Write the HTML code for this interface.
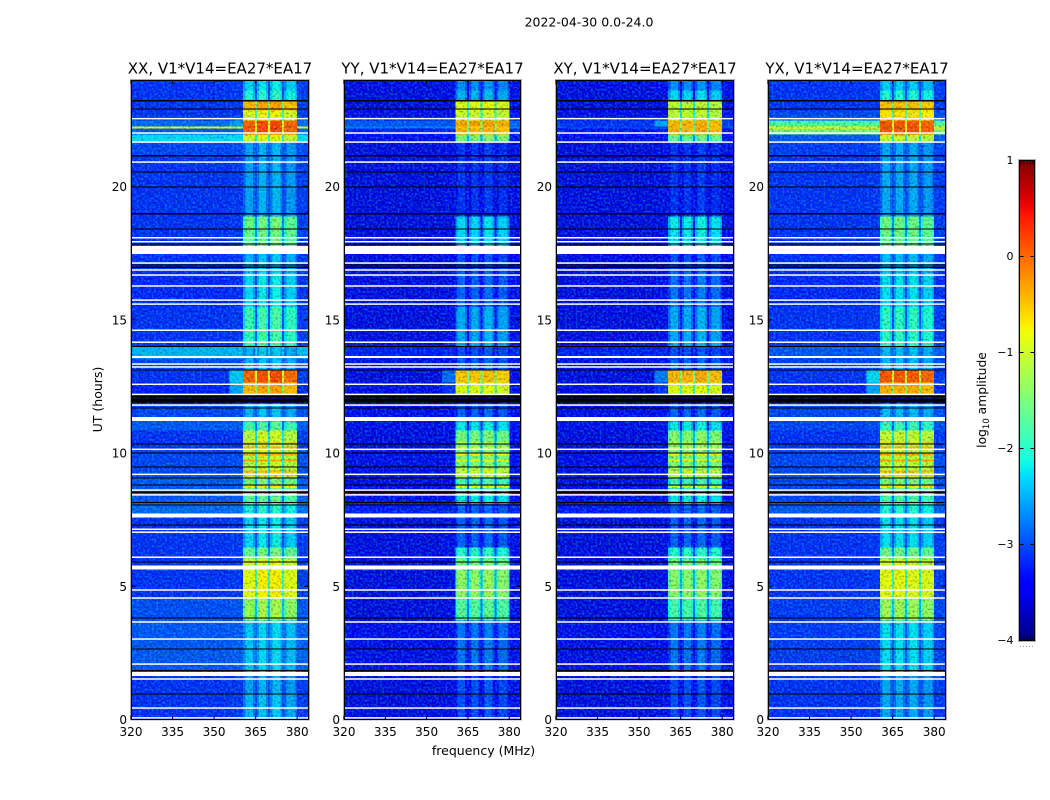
<!DOCTYPE html>
<html lang="en">
<head>
<meta charset="utf-8">
<title>2022-04-30 spectrogram</title>
<style>
html,body{margin:0;padding:0;background:#fff;}
svg{display:block;font-family:"DejaVu Sans","Liberation Sans",sans-serif;fill:#000;}
</style>
</head>
<body>
<svg id="chart" xmlns="http://www.w3.org/2000/svg" width="1050" height="800" viewBox="0 0 1050 800">
  <defs>
    <filter id="speckle-dark" x="0" y="0" width="1" height="1" color-interpolation-filters="sRGB">
      <feTurbulence type="fractalNoise" baseFrequency="0.46" numOctaves="1" seed="7"/>
      <feColorMatrix type="matrix" values="1.1 0 0 0 0.42  1.1 0 0 0 0.42  1.1 0 0 0 0.42  0 0 0 0 1"/>
    </filter>
    <filter id="speckle-light" x="0" y="0" width="1" height="1" color-interpolation-filters="sRGB">
      <feTurbulence type="fractalNoise" baseFrequency="0.46" numOctaves="1" seed="23"/>
      <feColorMatrix type="matrix" values="0 0 0 0 0  1.0 0 0 0 -0.42  0 0 0 0 0  0 0 0 0 1"/>
    </filter>
    <linearGradient id="jet-gradient" x1="0" y1="1" x2="0" y2="0"></linearGradient>
  </defs>
  <text x="589" y="26.500" font-size="12.500" text-anchor="middle">2022-04-30 0.0-24.0</text>
  <text transform="translate(102 399.500) rotate(-90)" font-size="12.500" text-anchor="middle">UT (hours)</text>
  <text x="483.500" y="755" font-size="12.500" text-anchor="middle">frequency (MHz)</text>
  <g id="panels"></g>
  <g id="colorbar">
    <rect x="1019.500" y="160.500" width="15" height="480" fill="url(#jet-gradient)"/>
    <text transform="translate(986 400) rotate(-90)" font-size="12.300" text-anchor="middle">log<tspan font-size="8.500" dy="3">10</tspan><tspan dy="-3"> amplitude</tspan></text>
  </g>
</svg>
<script>
// ---- Shared axis data ----
const panelTitles = ["XX, V1*V14=EA27*EA17", "YY, V1*V14=EA27*EA17", "XY, V1*V14=EA27*EA17", "YX, V1*V14=EA27*EA17"];
const freqTicks = [320, 335, 350, 365, 380];
const hourTicks = [0, 5, 10, 15, 20];
const colorbarTicks = [1, 0, -1, -2, -3, -4];

// Time-segment edges (UT hours) and frequency-column edges (MHz)
const segmentEdges = [0,1.0,1.86,3.73,4.60,5.61,6.06,6.47,7.60,8.13,8.61,9.06,9.48,10.11,10.86,11.20,11.88,12.22,12.67,13.12,13.57,14.02,15.50,16.79,17.77,18.90,21.11,21.67,21.97,22.20,22.27,22.50,22.87,23.21,23.62,24];
const subbandRanges = [[360.4,364.7],[365.4,369.5],[370.2,374.6],[375.3,380]];

// log10 amplitude per time segment, off-band background
const xxBackground = [-3.2,-3.2,-3.0,-3.05,-3.2,-3.2,-3.2,-3.2,-2.9,-3.0,-3.0,-3.1,-3.1,-3.2,-3.0,-3.1,-4,-3.3,-3.2,-3.1,-2.5,-3.2,-3.25,-3.2,-3.2,-3.2,-3.1,-2.3,-3.0,-0.9,-2.9,-3.2,-3.2,-3.2,-3.2];
const yyBackground = [-3.55,-3.55,-3.5,-3.55,-3.55,-3.55,-3.55,-3.55,-3.3,-3.5,-3.5,-3.5,-3.5,-3.55,-3.5,-3.5,-4,-3.55,-3.55,-3.5,-3.3,-3.55,-3.55,-3.55,-3.55,-3.55,-3.55,-3.4,-3.3,-2.8,-3.0,-3.5,-3.55,-3.55,-3.55];
const xyBackground = [-3.55,-3.55,-3.5,-3.55,-3.55,-3.55,-3.55,-3.55,-3.3,-3.5,-3.5,-3.5,-3.5,-3.55,-3.5,-3.5,-4,-3.55,-3.55,-3.5,-3.3,-3.55,-3.55,-3.55,-3.55,-3.55,-3.55,-3.45,-3.4,-3.1,-3.2,-3.5,-3.55,-3.55,-3.55];
const yxBackground = [-3.2,-3.2,-3.15,-3.15,-3.2,-3.2,-3.2,-3.2,-3.0,-3.1,-3.1,-3.1,-3.1,-3.2,-3.1,-3.1,-4,-3.3,-3.2,-3.15,-3.0,-3.2,-3.25,-3.2,-3.2,-3.2,-3.15,-3.0,-1.5,-0.7,-1.8,-3.1,-3.2,-3.2,-3.2];

// log10 amplitude per time segment, inside the 360-380 MHz band
const xxBand = [-2.5,-2.6,-2.4,-1.3,-0.85,-0.95,-1.6,-2.3,-2.1,-1.7,-1.5,-1.1,-1.1,-1.1,-1.8,-2.5,-3.5,-0.4,0.1,-2.5,-2.5,-1.9,-2.3,-2.5,-1.6,-2.6,-2.6,-1.0,0.1,0.2,0.1,-0.9,-0.4,-2.1,-2.3];
const yyBand = [-3.05,-3.05,-2.85,-1.7,-1.35,-1.5,-2.0,-2.95,-2.95,-2.2,-1.8,-1.2,-1.4,-1.5,-2.2,-2.95,-3.6,-0.9,-0.5,-2.95,-3.05,-2.55,-2.95,-3.05,-2.3,-3.2,-3.2,-1.4,-0.4,-0.5,-0.3,-1.0,-0.9,-2.5,-2.7];
const xyBand = [-3.05,-3.05,-2.85,-1.8,-1.4,-1.5,-2.0,-2.95,-2.95,-2.2,-1.9,-1.3,-1.4,-1.4,-2.2,-2.95,-3.6,-0.9,-0.4,-2.95,-3.05,-2.55,-2.85,-3.05,-2.2,-3.2,-3.2,-1.6,-0.4,-0.4,-0.4,-1.1,-1.1,-2.3,-2.7];
const yxBand = [-2.6,-2.6,-2.3,-1.3,-0.9,-1.0,-1.6,-2.3,-2.1,-1.8,-1.5,-1.1,-1.1,-1.1,-1.9,-2.5,-3.5,-0.4,0.1,-2.5,-2.5,-2.0,-2.3,-2.5,-1.6,-2.6,-2.6,-1.1,0.1,0.2,0.1,-0.7,-0.5,-2.1,-2.4];

// Per-subband offsets
const xxSubband = [0.0, 0.1, 0.12, -0.05];
const yySubband = [0.0, 0.0, 0.05, -0.05];
const xySubband = [0.0, 0.0, 0.05, -0.05];
const yxSubband = [0.05, 0.05, 0.05, -0.05];

// Pre-band shoulder in specific time segments
const shoulderSegments = [17, 18, 30];
const xxShoulder = [-2.6, -2.4, -2.6];
const yyShoulder = [-3.2, -2.9, -3.0];
const xyShoulder = [-3.2, -2.8, -2.6];
const yxShoulder = [-2.6, -2.3, -1.8];

// Bright horizontal stripes inside the band (UT hours, log10 amplitude)
const stripeHours = [8.72, 9.15, 9.30, 9.72, 9.95, 10.20, 10.35];
const xxStripe = [-0.7, -0.5, -0.4, -0.3, -0.3, -0.4, -0.3];
const yyStripe = [-0.9, -1.0, -0.9, -0.9, -0.9, -1.0, -0.9];
const xyStripe = [-1.0, -1.0, -0.9, -0.9, -0.9, -1.0, -1.0];
const yxStripe = [-0.7, -0.5, -0.4, -0.3, -0.3, -0.4, -0.4];

// Flagged data (UT hours)
const whiteLineHours = [0.06,0.43,1.52,2.08,3.02,3.66,4.56,4.86,6.09,7.03,7.14,8.43,8.61,9.20,10.14,11.80,12.20,12.58,13.23,13.34,14.16,14.61,15.59,15.74,16.27,16.68,16.87,17.13,17.93,18.08,20.92,21.67,22.01,22.55];
const whiteSpans = [[1.63,1.78],[5.63,5.78],[7.58,7.73],[11.20,11.35],[13.57,13.64],[17.47,17.77]];
const blackLineHours = [0.96,1.84,2.65,3.81,5.91,7.30,8.05,8.14,8.53,8.80,9.06,9.48,10.00,10.34,11.69,13.12,14.0,16.97,17.06,17.85,18.41,18.97,19.98,20.55,21.15,22.91,23.22];
const blackSpans = [[11.90,12.04],[12.09,12.19],[18.95,19.0],[21.13,21.18],[23.2,23.25]];

const panelData = [
  {x:131, w:177, bg:xxBackground, band:xxBand, sub:xxSubband, shoulder:xxShoulder, stripe:xxStripe, key:'xx'},
  {x:344, w:176, bg:yyBackground, band:yyBand, sub:yySubband, shoulder:yyShoulder, stripe:yyStripe, key:'yy'},
  {x:556, w:177, bg:xyBackground, band:xyBand, sub:xySubband, shoulder:xyShoulder, stripe:xyStripe, key:'xy'},
  {x:768, w:177, bg:yxBackground, band:yxBand, sub:yxSubband, shoulder:yxShoulder, stripe:yxStripe, key:'yx'}
];

// ---- Scales ----
const NS = 'http://www.w3.org/2000/svg';
const plotTop = 80, plotBottom = 719.5;
const freqMin = 320, freqMax = 383.9, hourMax = 24;
const levelMin = -4, levelMax = 1;
const bandLow = 360.4, bandHigh = 380, shoulderLow = 355.6;
const rollOffMHz = 0.7;

function yScale(h){ return plotBottom - h / hourMax * (plotBottom - plotTop); }
function xScale(panel, f){ return panel.x + (f - freqMin) / (freqMax - freqMin) * panel.w; }

function lerpTable(table, t){
  for(let i = 1; i < table.length; i++){
    if(t <= table[i][0]){
      const a = table[i-1], b = table[i];
      return a[1] + (b[1]-a[1]) * (t-a[0]) / (b[0]-a[0]);
    }
  }
  return table[table.length-1][1];
}
const jetR = [[0,0],[0.35,0],[0.66,1],[0.89,1],[1,0.5]];
const jetG = [[0,0],[0.125,0],[0.375,1],[0.64,1],[0.91,0],[1,0]];
const jetB = [[0,0.5],[0.11,1],[0.34,1],[0.65,0],[1,0]];
function jet(t){
  t = Math.max(0, Math.min(1, t));
  return 'rgb(' + Math.round(255*lerpTable(jetR,t)) + ',' + Math.round(255*lerpTable(jetG,t)) + ',' + Math.round(255*lerpTable(jetB,t)) + ')';
}
function levelColor(v){ return jet((v - levelMin) / (levelMax - levelMin)); }

function make(tag, attrs, parent){
  const el = document.createElementNS(NS, tag);
  for(const k in attrs) el.setAttribute(k, attrs[k]);
  parent.appendChild(el);
  return el;
}

// ---- Draw panels ----
const panelsRoot = document.getElementById('panels');
panelData.forEach(function(panel, p){
  const g = make('g', {}, panelsRoot);
  
  
  const clipId = 'clip-' + panel.key;
  const defs = make('clipPath', {id: clipId}, g);
  make('rect', {x: panel.x, y: plotTop, width: panel.w, height: plotBottom - plotTop}, defs);

  const heat = make('g', {'clip-path': 'url(#' + clipId + ')', 'shape-rendering': 'crispEdges', style: 'isolation:isolate'}, g);
  
  

  function cell(f0, f1, s, level){
    const x0 = xScale(panel, f0), x1 = xScale(panel, f1);
    const y0 = yScale(segmentEdges[s+1]), y1 = yScale(segmentEdges[s]);
    const r = make('rect', {x: x0, y: y0, width: x1 - x0 + 0.5, height: y1 - y0 + 0.5, fill: levelColor(level)}, heat);
    
    
  }

  for(let s = 0; s < segmentEdges.length - 1; s++){
    const bg = panel.bg[s], band = panel.band[s];
    const si = shoulderSegments.indexOf(s);
    cell(freqMin, shoulderLow, s, bg);
    cell(shoulderLow, bandLow, s, si >= 0 ? panel.shoulder[si] : bg + 0.03);
    subbandRanges.forEach(function(range, i){
      const level = band + panel.sub[i];
      cell(range[0], range[1], s, level);
      if(band < -1.2){
        cell(range[0], range[0] + rollOffMHz, s, level - 0.35);
        cell(range[1] - rollOffMHz, range[1], s, level - 0.35);
      }
      if(i < subbandRanges.length - 1){
        cell(range[1], subbandRanges[i+1][0], s, Math.max(bg + 0.15, band - 1.1));
      }
    });
    cell(bandHigh, freqMax, s, bg + 0.05);
  }

  // bright band stripes
  stripeHours.forEach(function(h, k){
    subbandRanges.forEach(function(range){
      const x0 = xScale(panel, range[0]), x1 = xScale(panel, range[1]);
      const r = make('rect', {x: x0, y: yScale(h) - 1, width: x1 - x0, height: 2, fill: levelColor(panel.stripe[k])}, heat);
      
      
    });
  });

  const darkNoise = make('rect', {x: panel.x, y: plotTop, width: panel.w, height: plotBottom - plotTop, filter: 'url(#speckle-dark)', style: 'mix-blend-mode:multiply'}, heat);
  
  
  const lightNoise = make('rect', {x: panel.x, y: plotTop, width: panel.w, height: plotBottom - plotTop, filter: 'url(#speckle-light)', style: 'mix-blend-mode:screen'}, heat);
  
  

  const flags = make('g', {'clip-path': 'url(#' + clipId + ')', 'shape-rendering': 'crispEdges'}, g);
  
  
  blackLineHours.forEach(function(h){
    const r = make('rect', {x: panel.x, y: yScale(h) - 0.6, width: panel.w, height: 1.2, fill: '#000'}, flags);
    
    
  });
  blackSpans.forEach(function(sp){
    const r = make('rect', {x: panel.x, y: yScale(sp[1]), width: panel.w, height: yScale(sp[0]) - yScale(sp[1]), fill: '#000'}, flags);
    
    
  });
  whiteLineHours.forEach(function(h){
    const r = make('rect', {x: panel.x, y: yScale(h) - 0.75, width: panel.w, height: 1.5, fill: '#fff', 'shape-rendering': 'auto'}, flags);
    
    
  });
  whiteSpans.forEach(function(sp){
    const r = make('rect', {x: panel.x, y: yScale(sp[1]), width: panel.w, height: yScale(sp[0]) - yScale(sp[1]), fill: '#fff'}, flags);
    
    
  });

  // frame
  const outer = make('rect', {x: panel.x - 0.5, y: plotTop - 0.5, width: panel.w + 2, height: plotBottom - plotTop + 1, fill: 'none', stroke: '#b0b0b0', 'stroke-width': 1}, g);
  
  
  const frame = make('rect', {x: panel.x + 0.5, y: plotTop + 0.5, width: panel.w, height: plotBottom - plotTop - 0.5, fill: 'none', stroke: '#000', 'stroke-width': 1}, g);
  
  

  // x ticks
  freqTicks.forEach(function(f){
    const x = xScale(panel, f);
    const t1 = make('line', {x1: x, x2: x, y1: plotBottom, y2: plotBottom - 4, stroke: '#000', 'stroke-width': 1}, g);
    
    
    const t2 = make('line', {x1: x, x2: x, y1: plotTop, y2: plotTop + 4, stroke: '#000', 'stroke-width': 1}, g);
    
    
    const label = make('text', {x: x, y: 736, 'font-size': 12, 'text-anchor': 'middle'}, g);
    
    
    label.textContent = String(f);
  });
  // y ticks
  hourTicks.forEach(function(h){
    const y = yScale(h);
    const t1 = make('line', {x1: panel.x, x2: panel.x + 4, y1: y, y2: y, stroke: '#000', 'stroke-width': 1}, g);
    
    
    const t2 = make('line', {x1: panel.x + panel.w, x2: panel.x + panel.w - 4, y1: y, y2: y, stroke: '#000', 'stroke-width': 1}, g);
    
    
    const label = make('text', {x: panel.x - 4, y: y + 4.5, 'font-size': 12, 'text-anchor': 'end'}, g);
    
    
    label.textContent = String(h);
  });

  const title = make('text', {x: panel.x + panel.w / 2 + 0.5, y: 73.5, 'font-size': 15, 'text-anchor': 'middle'}, g);
  
  
  title.textContent = panelTitles[p];
});

// ---- Colorbar ----
const gradient = document.getElementById('jet-gradient');
for(let i = 0; i <= 50; i++){
  make('stop', {offset: (i / 50), 'stop-color': jet(i / 50)}, gradient);
}
const cbRoot = document.getElementById('colorbar');
const cbX = 1019.5, cbW = 15, cbTop = 160.5, cbBottom = 640.5;
function cbScale(v){ return cbBottom - (v - levelMin) / (levelMax - levelMin) * (cbBottom - cbTop); }

const cbHalo = make('rect', {x: cbX - 1, y: cbTop - 1, width: cbW + 2, height: cbBottom - cbTop + 2, fill: 'none', stroke: '#b0b0b0', 'stroke-width': 1}, cbRoot);


const cbFrame = make('rect', {x: cbX, y: cbTop, width: cbW, height: cbBottom - cbTop, fill: 'none', stroke: '#000', 'stroke-width': 1}, cbRoot);



colorbarTicks.forEach(function(v){
  const y = cbScale(v);
  const t1 = make('line', {x1: cbX, x2: cbX + 4, y1: y, y2: y, stroke: '#000', 'stroke-width': 1}, cbRoot);
  
  
  const t2 = make('line', {x1: cbX + cbW, x2: cbX + cbW - 4, y1: y, y2: y, stroke: '#000', 'stroke-width': 1}, cbRoot);
  
  
  const label = make('text', {x: 1013.5, y: y + 3.5, 'font-size': 11, 'text-anchor': 'end'}, cbRoot);
  
  
  label.textContent = (v < 0 ? '\u2212' + Math.abs(v) : String(v));
});

const cbMinorOffsets = [1.5, 4.5, 7.5, 10.5, 13.5];
cbMinorOffsets.forEach(function(dx){
  const top = make('line', {x1: cbX + dx, x2: cbX + dx, y1: cbTop, y2: cbTop + 4, stroke: '#000', 'stroke-width': 0.8}, cbRoot);
  
  
  const bottom = make('line', {x1: cbX + dx, x2: cbX + dx, y1: cbBottom, y2: cbBottom - 4, stroke: '#000', 'stroke-width': 0.8}, cbRoot);
  
  
  const dot = make('rect', {x: cbX + dx - 1, y: 646, width: 1, height: 1, fill: '#999'}, cbRoot);
  
  
});
</script>
</body>
</html>
